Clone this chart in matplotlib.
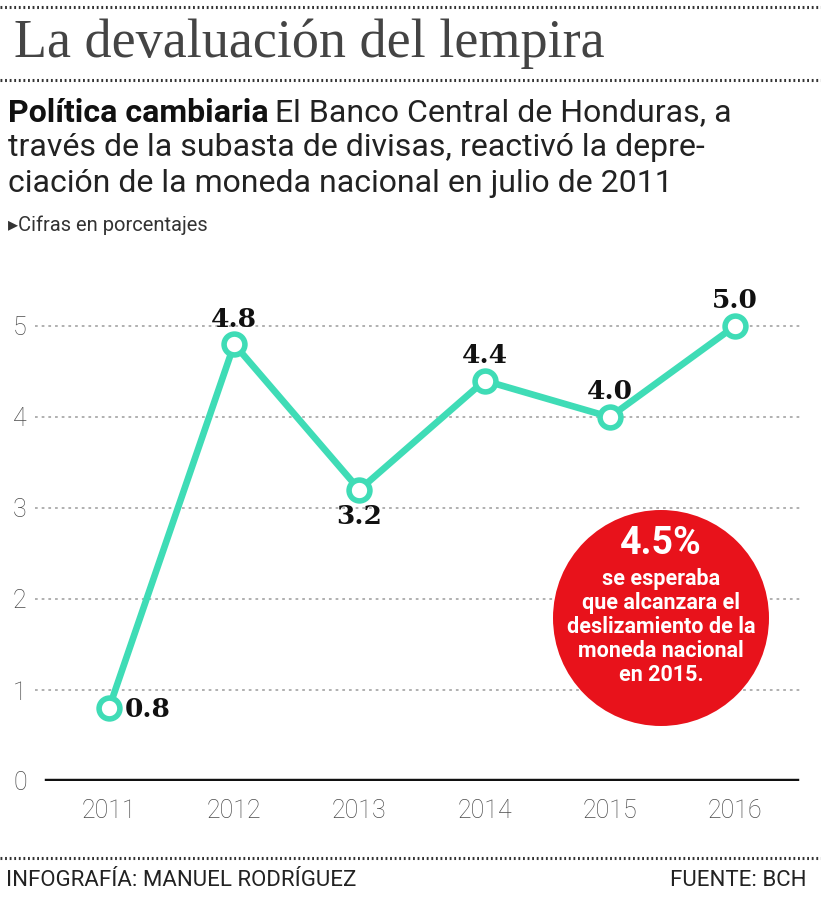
import matplotlib
matplotlib.use("Agg")
import matplotlib.pyplot as plt
from matplotlib.patches import Ellipse
from matplotlib.lines import Line2D

years = [2011, 2012, 2013, 2014, 2015, 2016]
values = [0.8, 4.8, 3.2, 4.4, 4.0, 5.0]
value_labels = ["0.8", "4.8", "3.2", "4.4", "4.0", "5.0"]
label_pos = ["right", "above", "below", "above", "above", "above"]
yticks = [0, 1, 2, 3, 4, 5]

TEAL = "#3fdcb6"
RED = "#e8121b"
GRAY = "#4a4a4a"

W, H = 821, 900
fig = plt.figure(figsize=(W / 100, H / 100), dpi=100)
fig.patch.set_facecolor("white")

def fx(px):
    return px / W

def fy(py):
    return 1 - py / H

# dotted separator lines
for py in (7, 80, 858):
    fig.add_artist(Line2D([0, 1], [fy(py), fy(py)], transform=fig.transFigure,
                          color="#333333", lw=2.2, ls=(0, (0.6, 0.9))))

# title
fig.text(fx(14), fy(44), "La devaluación del lempira", family="Liberation Serif",
         fontsize=39, color="#444444", va="center", ha="left")

# subtitle
sub_font = "Roboto"
SUB = 23
t1 = fig.text(fx(8), fy(113), "Política cambiaria", family=sub_font, fontweight="bold",
              fontsize=SUB, color="#111111", va="center", ha="left")
fig.canvas.draw()
bb = t1.get_window_extent()
fig.text(bb.x1 / W + fx(6), fy(113), "El Banco Central de Honduras, a", family=sub_font,
         fontsize=SUB, color="#222222", va="center", ha="left")
fig.text(fx(8), fy(148), "través de la subasta de divisas, reactivó la depre-", family=sub_font,
         fontsize=SUB, color="#222222", va="center", ha="left")
fig.text(fx(8), fy(184), "ciación de la moneda nacional en julio de 2011", family=sub_font,
         fontsize=SUB, color="#222222", va="center", ha="left")
fig.text(fx(8), fy(225), "▸Cifras en porcentajes", family=["Roboto", "DejaVu Sans"],
         fontsize=14.5, color="#333333", va="center", ha="left")

# axes
ax_left, ax_right, ax_bottom, ax_top = 35, 800, 781, 270
ax = fig.add_axes([fx(ax_left), fy(ax_bottom), fx(ax_right - ax_left), (ax_bottom - ax_top) / H])
ppy = (735 - 109) / 5
ax.set_xlim(2011 - (109 - ax_left) / ppy, 2016 + (ax_right - 735) / ppy)
ax.set_ylim(0, (ax_bottom - ax_top) / 91.0)
for s in ax.spines.values():
    s.set_visible(False)
ax.set_facecolor("none")

for yv in yticks[1:]:
    ax.axhline(yv, color="#aaaaaa", lw=1.3, ls=(0, (1.5, 2.2)), zorder=1)
x0 = (47 - ax_left) / (ax_right - ax_left)
x1 = (797 - ax_left) / (ax_right - ax_left)
ax.axhline(0, xmin=x0, xmax=x1, color="#111111", lw=3.2, zorder=2)

ax.set_yticks(yticks)
ax.set_yticklabels([str(v) for v in yticks], family="Roboto", fontweight="light",
                   fontsize=18, color=GRAY)
ax.set_xticks(years)
ax.set_xticklabels([str(y) for y in years], family="Roboto", fontweight="light",
                   fontsize=18, color=GRAY)
ax.tick_params(axis="both", length=0)
ax.tick_params(axis="y", pad=6)
ax.tick_params(axis="x", pad=13)

ax.plot(years, values, color=TEAL, lw=4.8, zorder=3, solid_joinstyle="miter")
ax.plot(years, values, ls="none", marker="o", ms=15, mfc="white", mec=TEAL, mew=4, zorder=4)

LBL = dict(family="DejaVu Serif", fontweight="bold", fontsize=19, color="#111111")
for x, v, lab, pos in zip(years, values, value_labels, label_pos):
    if pos == "above":
        ax.annotate(lab, (x, v), xytext=(0, 9), textcoords="offset points", ha="center",
                    va="bottom", **LBL)
    elif pos == "below":
        ax.annotate(lab, (x, v), xytext=(0, -10), textcoords="offset points", ha="center",
                    va="top", **LBL)
    else:
        ax.annotate(lab, (x, v), xytext=(11, -1), textcoords="offset points", ha="left",
                    va="center", **LBL)

# red circle callout
cx, cy, r = 661, 618, 108
circ = Ellipse((cx / 100, (H - cy) / 100), 2 * r / 100, 2 * r / 100,
               transform=fig.dpi_scale_trans, facecolor=RED, edgecolor="none", zorder=5)
fig.add_artist(circ)
fig.text(fx(cx), fy(544), "4.5%", family="Roboto", fontweight="bold", fontsize=27,
         color="white", ha="center", va="center", zorder=6)
lines = ["se esperaba", "que alcanzara el", "deslizamiento de la",
         "moneda nacional", "en 2015."]
for i, ln in enumerate(lines):
    fig.text(fx(cx), fy(579 + i * 24), ln, family="Roboto", fontweight="bold", fontsize=15.5,
             color="white", ha="center", va="center", zorder=6)

# footer
fig.text(fx(6), fy(881), "INFOGRAFÍA: MANUEL RODRÍGUEZ", family="Roboto", fontsize=16,
         color="#222222", ha="left", va="center")
fig.text(fx(806), fy(881), "FUENTE: BCH", family="Roboto", fontsize=16,
         color="#222222", ha="right", va="center")

fig.savefig("out.png", dpi=100, facecolor="white")
